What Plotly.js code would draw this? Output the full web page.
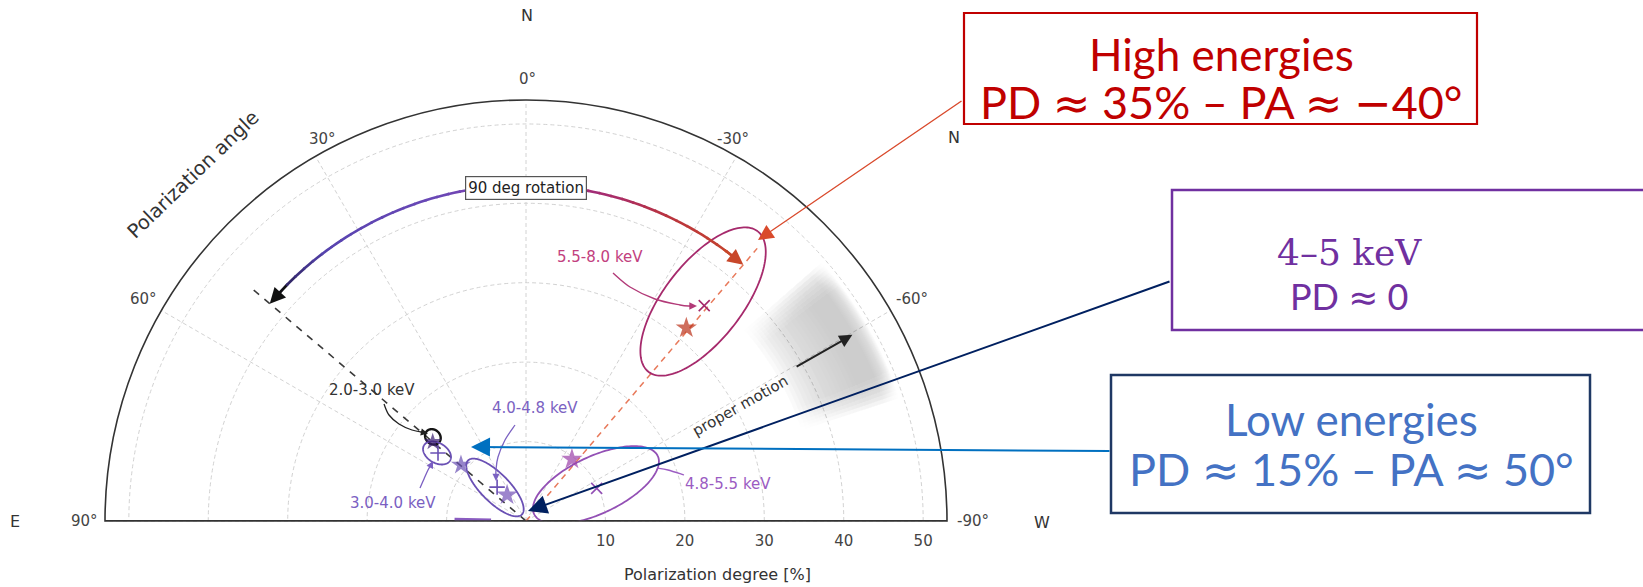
<!DOCTYPE html>
<html><head><meta charset="utf-8">
<script src="https://cdn.plot.ly/plotly-3.0.1.min.js"></script>
<style>html,body{margin:0;padding:0;background:#fff;}#chart{width:1643px;height:587px;}</style>
</head><body><div id="chart"></div>
<script>
// ================= DATA =================
const energyBins = ['2.0-3.0 keV','3.0-4.0 keV','4.0-4.8 keV','4.8-5.5 keV','5.5-8.0 keV'];
// confidence contours: centre PD [%], centre PA [deg], half-size along radius / across [% units], tilt [deg]
const ellPD   = [15.8, 14.1, 5.75, 9.9, 35.5];
const ellPA   = [47.9, 52.6, 42.8, -62.8, -38.9];
const ellRad  = [1.05, 1.9, 4.8, 8.6, 11.2];
const ellTan  = [0.9, 1.26, 1.8, 3.6, 4.9];
const ellTilt = [0, 7, 2, -2, 1];
// star markers
const starPD = [15.4, 10.8, 4.05, 9.7, 31.6];
const starPA = [49.7, 49.3, 36.0, -36.6, -39.7];
// cross markers (the 2.0-3.0 keV bin shows none)
const crossPD = [14.0, 5.6, 9.8, 35.2];
const crossPA = [52.3, 40.5, -65.2, -39.6];
// reference directions (low / high energies)
const lowPA = 49.7, highPA = -40.3, refLineLen = 45;
// 90 deg rotation arc
const rotationR = 42.3;
// proper motion band and arrow
const pmPA = -60.3, pmHalfWidth = 11.5, pmRange = [36.5, 49.5], pmArrowR = [39, 47.3];
// axes
const RMAX = 53;
const radialTicks = [10, 20, 30, 40, 50];
const angleTicks = [90, 60, 30, 0, -30, -60, -90];

// ================= geometry helpers =================
const W = 1643, H = 587;
const M = {l:105, r:696, t:100, b:66};
const PW = W - M.l - M.r, PH = H - M.t - M.b;
const OX = M.l + PW/2, OY = M.t + PH;
const KPX = PH / RMAX;
const px = X => (X - M.l)/PW;
const py = Y => (M.t + PH - Y)/PH;
const D2R = Math.PI/180;
function pol2pix(pd, pa){ return [OX - pd*KPX*Math.sin(pa*D2R), OY - pd*KPX*Math.cos(pa*D2R)]; }

function ellipse(i){
  const pa = ellPA[i]*D2R;
  const cx = -ellPD[i]*Math.sin(pa), cy = ellPD[i]*Math.cos(pa);
  const rd = [-Math.sin(pa), Math.cos(pa)];
  const t0 = ellTilt[i]*D2R;
  const u = [rd[0]*Math.cos(t0) - rd[1]*Math.sin(t0), rd[0]*Math.sin(t0) + rd[1]*Math.cos(t0)];
  const v = [-u[1], u[0]];
  const r = [], th = [];
  for (let k = 0; k <= 160; k++){
    const t = 2*Math.PI*k/160;
    const x = cx + ellRad[i]*Math.cos(t)*u[0] + ellTan[i]*Math.sin(t)*v[0];
    const y = cy + ellRad[i]*Math.cos(t)*u[1] + ellTan[i]*Math.sin(t)*v[1];
    r.push(Math.hypot(x, y)); th.push(Math.atan2(-x, y)/D2R);
  }
  return {r, th};
}

const ellColors   = ['#151515','#6a50b4','#6a50b4','#9350b5','#a62a6c'];
const starColors  = ['#3b1f70','#6a50b4','#7351b8','#9b40a8','#bb3118'];
const crossColors = ['#6a50b4','#6a50b4','#9350b5','#a62a6c'];
const crossSymbols= ['cross-thin','cross-thin','x-thin','x-thin'];
const labelColors = ['#333333','#7b5fc2','#7b62c2','#9b5cc2','#c2407e'];

const traces = [];

// proper-motion gradient band (overlapping barpolar layers -> smooth gradient)
const bR=[], bBase=[], bW=[], bT=[], bC=[];
const nRad = 17, nAng = 8;
for (let j = 0; j < nAng; j++){
  const w = 2*pmHalfWidth - 1.2*j;
  for (let i = 0; i < nRad; i++){
    const b = pmRange[0] + (45 - pmRange[0])*i/(nRad-1);
    const e = pmRange[1] - (pmRange[1] - 47.5)*i/(nRad-1);
    bBase.push(b); bR.push(e - b); bW.push(w); bT.push(pmPA);
    bC.push('rgba(30,30,30,0.01)');
  }
}
traces.push({type:'barpolar', r:bR, base:bBase, theta:bT, width:bW, opacity:0.21,
  marker:{color:bC, line:{width:0}}, hoverinfo:'skip', showlegend:false});

// bottom axis line
traces.push({type:'scatterpolar', r:[RMAX, RMAX], theta:[90, -90], mode:'lines',
  line:{color:'#333', width:2}, cliponaxis:false, hoverinfo:'skip', showlegend:false});

// reference dashed lines
traces.push({type:'scatterpolar', r:[0, refLineLen], theta:[lowPA, lowPA], mode:'lines',
  line:{color:'#3a3a3a', width:1.6, dash:'7px,7px'}, hoverinfo:'skip', showlegend:false});
traces.push({type:'scatterpolar', r:[0, refLineLen], theta:[highPA, highPA], mode:'lines',
  line:{color:'#e8795a', width:1.5, dash:'6px,5px'}, hoverinfo:'skip', showlegend:false});

// small purple segment on the axis
traces.push({type:'scatterpolar', r:[4.4, 9.0], theta:[88.8, 88.8], mode:'lines',
  line:{color:'#8a5cc0', width:3.5}, cliponaxis:false, hoverinfo:'skip', showlegend:false});

// contours
for (let i = 0; i < energyBins.length; i++){
  const e = ellipse(i);
  traces.push({type:'scatterpolar', r:e.r, theta:e.th, mode:'lines', name:energyBins[i],
    line:{color:ellColors[i], width: i===0 ? 2.4 : 1.8}, hoverinfo:'skip', showlegend:false});
}

// 90 deg rotation arc with colour gradient
const arcStops = [[49.7,'#111111'],[44,'#34286f'],[36,'#5844b0'],[15,'#6a48b6'],[5,'#7d3fae'],
  [-5,'#962f8e'],[-15,'#a82c6a'],[-25,'#b9343f'],[-40.3,'#c8472a']];
function hex2rgb(h){return [1,3,5].map(k=>parseInt(h.substr(k,2),16));}
function arcColor(pa){
  for (let k = 0; k < arcStops.length-1; k++){
    const [a0,c0] = arcStops[k], [a1,c1] = arcStops[k+1];
    if (pa <= a0 && pa >= a1){
      const f = (a0-pa)/(a0-a1), A = hex2rgb(c0), B = hex2rgb(c1);
      return 'rgb(' + A.map((v,j)=>Math.round(v+(B[j]-v)*f)).join(',') + ')';
    }
  }
  return arcStops[arcStops.length-1][1];
}
for (let a = 47.5; a > -38; a -= 2){
  const b = Math.max(a - 2.3, -38);
  traces.push({type:'scatterpolar', r:[rotationR, rotationR, rotationR], theta:[a, (a+b)/2, b],
    mode:'lines', line:{color:arcColor((a+b)/2), width:2.6}, hoverinfo:'skip', showlegend:false});
}

// markers
traces.push({type:'scatterpolar', r:crossPD, theta:crossPA, mode:'markers',
  marker:{symbol:crossSymbols, size:11, color:crossColors, line:{width:1.6, color:crossColors}},
  hoverinfo:'skip', showlegend:false});
traces.push({type:'scatterpolar', r:starPD, theta:starPA, mode:'markers',
  marker:{symbol:'star', size:[13,15,16,16,16], color:starColors, line:{width:0}},
  hoverinfo:'skip', showlegend:false});

// ================= annotations / shapes =================
const ann = [];
const shapes = [];
function txt(X, Y, text, size, color, extra){
  ann.push(Object.assign({xref:'paper', yref:'paper', x:px(X), y:py(Y), text:text, showarrow:false,
    xanchor:'center', yanchor:'middle', font:{family:'DejaVu Sans', size:size, color:color}}, extra||{}));
}
function arrow(tip, tail, color, width, size, head){
  ann.push({xref:'paper', yref:'paper', x:px(tip[0]), y:py(tip[1]), ax:tail[0]-tip[0], ay:tail[1]-tip[1],
    axref:'pixel', ayref:'pixel', text:'', showarrow:true, arrowhead:head||2, arrowsize:size,
    arrowwidth:width, arrowcolor:color, standoff:0, startstandoff:0});
}
function curve(pts, color, width){
  let d = 'M ' + px(pts[0][0]) + ',' + py(pts[0][1]);
  for (let i = 0; i < pts.length-1; i++){
    const p0 = pts[Math.max(i-1,0)], p1 = pts[i], p2 = pts[i+1], p3 = pts[Math.min(i+2, pts.length-1)];
    const c1 = [p1[0] + (p2[0]-p0[0])/6, p1[1] + (p2[1]-p0[1])/6];
    const c2 = [p2[0] - (p3[0]-p1[0])/6, p2[1] - (p3[1]-p1[1])/6];
    d += ' C ' + px(c1[0]) + ',' + py(c1[1]) + ' ' + px(c2[0]) + ',' + py(c2[1]) + ' ' + px(p2[0]) + ',' + py(p2[1]);
  }
  shapes.push({type:'path', xref:'paper', yref:'paper', path:d, line:{color:color, width:width}, layer:'above'});
}

// angular tick labels (placed as in the reference)
const angLabelPos = {'90':[84,521], '60':[143,299], '30':[322,139], '0':[527,79],
  '-30':[733,139], '-60':[912,299], '-90':[973,521]};
angleTicks.forEach(a => { const p = angLabelPos[String(a)]; txt(p[0], p[1], a + '°', 15, '#444'); });

// compass letters and axis titles
txt(527, 15, 'N', 16, '#333');
txt(954, 137, 'N', 16, '#333');
txt(15, 521, 'E', 16, '#333');
txt(1042, 522, 'W', 16, '#333');
txt(193, 174, 'Polarization angle', 19.5, '#333', {textangle:-44});
txt(717, 574, 'Polarization degree [%]', 16, '#333');

// energy labels and pointers
txt(372, 390, energyBins[0], 15, labelColors[0]);
txt(393, 503, energyBins[1], 15, labelColors[1]);
txt(535, 408, energyBins[2], 15, labelColors[2]);
txt(728, 484, energyBins[3], 15, labelColors[3]);
txt(600, 257, energyBins[4], 15, labelColors[4]);

curve([[384,404],[389,415],[399,424],[412,430],[424,432.5]], '#222', 1.3);
arrow([428,433.5],[419,431.5], '#222', 1.3, 1.1);
curve([[420,488],[424,479],[428,470],[431,465]], labelColors[1], 1.3);
arrow([433,461],[430,467], labelColors[1], 1.3, 1.1);
curve([[515,425],[505,440],[498,457],[496,470],[496,476]], labelColors[2], 1.3);
arrow([496,481],[496,474], labelColors[2], 1.3, 1.1);
curve([[657,468],[668,470],[684,475]], labelColors[3], 1.3);
curve([[613,273],[630,287],[655,299],[680,305],[690,306]], '#b23a78', 1.4);
arrow([697,306],[688,306], '#b23a78', 1.4, 1.1);

// rotation arc arrowheads + label
arrow(pol2pix(rotationR, lowPA), pol2pix(rotationR, lowPA-4.5), '#111', 2.4, 1.3);
arrow(pol2pix(rotationR, highPA), pol2pix(rotationR, highPA+4.5), '#c8472a', 2.4, 1.3);
ann.push({xref:'paper', yref:'paper', x:px(525.5), y:py(188), text:'90 deg rotation', showarrow:false,
  xanchor:'center', yanchor:'middle', bgcolor:'#ffffff', bordercolor:'#555', borderwidth:1.2, borderpad:2,
  font:{family:'DejaVu Sans', size:15, color:'#222'}});

// proper motion
arrow(pol2pix(pmArrowR[1], pmPA), pol2pix(pmArrowR[0], pmPA), '#222', 2, 1.3);
txt(740, 406, 'proper motion', 15, '#333', {textangle:-29.5});

// text boxes
shapes.push({type:'rect', xref:'paper', yref:'paper', x0:px(964), x1:px(1477), y0:py(13), y1:py(124),
  line:{color:'#c00000', width:2.2}, fillcolor:'rgba(0,0,0,0)', layer:'above'});
shapes.push({type:'rect', xref:'paper', yref:'paper', x0:px(1172), x1:px(1660), y0:py(190), y1:py(330),
  line:{color:'#7030a0', width:2.5}, fillcolor:'rgba(0,0,0,0)', layer:'above'});
shapes.push({type:'rect', xref:'paper', yref:'paper', x0:px(1111), x1:px(1590), y0:py(375), y1:py(513),
  line:{color:'#1f3864', width:2.5}, fillcolor:'rgba(0,0,0,0)', layer:'above'});

const AP = '<span style="font-family:DejaVu Sans">≈</span>';
const MN = '<span style="font-family:DejaVu Sans">−</span>';
function boxTxt(X, Y, text, size, color, fam){
  ann.push({xref:'paper', yref:'paper', x:px(X), y:py(Y), text:text, showarrow:false,
    xanchor:'center', yanchor:'middle', font:{family:fam||'Lato', size:size, color:color}});
}
boxTxt(1221, 54, 'High energies', 44, '#c00000');
boxTxt(1221, 102, 'PD ' + AP + ' 35% – PA ' + AP + ' ' + MN + '40°', 45, '#c00000');
boxTxt(1349, 252, '4–5 keV', 36, '#7030a0', 'DejaVu Serif');
boxTxt(1349, 296, 'PD ' + AP + ' 0', 36, '#7030a0');
boxTxt(1351, 419, 'Low energies', 44, '#4472c4');
boxTxt(1351, 469, 'PD ' + AP + ' 15% – PA ' + AP + ' 50°', 45, '#4472c4');

// pointer arrows from the boxes
arrow([758,240],[963,100], '#d94a2c', 1.4, 2.2);
arrow([528,511],[1171,281], '#002060', 2, 1.9);
arrow([471,447],[1111,451], '#0070c0', 2, 1.9);

const layout = {
  width:W, height:H, margin:M, paper_bgcolor:'#ffffff', showlegend:false,
  font:{family:'DejaVu Sans', color:'#333'},
  polar:{
    domain:{x:[0,1], y:[0,1]}, sector:[0,180], bgcolor:'rgba(0,0,0,0)', barmode:'overlay',
    radialaxis:{range:[0,RMAX], tickmode:'array', tickvals:radialTicks, ticktext:radialTicks.map(String),
      showline:false, ticks:'outside', ticklen:6, tickcolor:'rgba(0,0,0,0)',
      gridcolor:'#d2d2d2', griddash:'4px,3px', gridwidth:1,
      tickfont:{family:'DejaVu Sans', size:15, color:'#444'}},
    angularaxis:{rotation:90, direction:'counterclockwise', tickmode:'array', tickvals:angleTicks,
      showticklabels:false, showline:true, linecolor:'#333', linewidth:1.6, ticks:'',
      gridcolor:'#d2d2d2', griddash:'4px,3px', gridwidth:1}
  },
  annotations:ann, shapes:shapes
};
Plotly.newPlot('chart', traces, layout, {staticPlot:true, displayModeBar:false});
</script></body></html>
